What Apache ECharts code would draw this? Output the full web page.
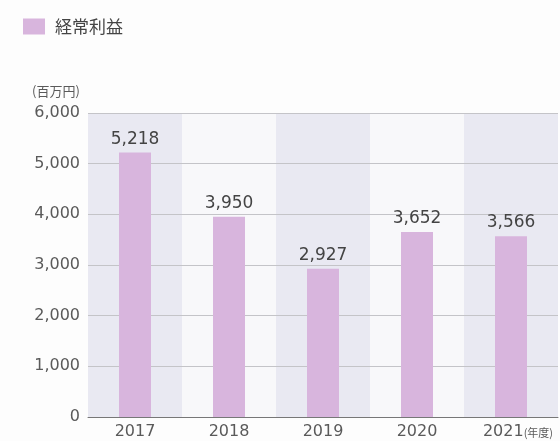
<!DOCTYPE html>
<html>
<head>
<meta charset="utf-8">
<script src="https://cdn.jsdelivr.net/npm/echarts@6/dist/echarts.min.js"></script>
<style>
html, body { margin: 0; padding: 0; background: #fdfdfd; }
#chart { width: 560px; height: 441px; }
</style>
</head>
<body>
<div id="chart"></div>
<script>
const years = ['2017', '2018', '2019', '2020', '2021'];
const ordinaryProfit = [5218, 3950, 2927, 3652, 3566];
const seriesName = '経常利益';
const unitLabel = '(百万円)';
const yearUnit = '(年度)';

const fmt = v => v.toLocaleString('en-US');
const textColor = '#5a5a5a';
const numFont = '"DejaVu Sans", sans-serif';
const cjkFont = '"Noto Sans CJK JP", "Noto Sans", sans-serif';

const chart = echarts.init(document.getElementById('chart'));
chart.setOption({
  backgroundColor: '#fdfdfd',
  animation: false,
  legend: {
    left: 18,
    top: 13,
    icon: 'rect',
    itemWidth: 22,
    itemHeight: 16,
    textStyle: { fontSize: 17, color: '#444', fontFamily: cjkFont, padding: [0, 0, 0, 5] },
    data: [seriesName]
  },
  grid: { left: 88, right: 2, top: 113, bottom: 24 },
  xAxis: [{
    // main category axis: baseline and year labels, drawn above the grid lines
    type: 'category',
    data: years,
    z: 2,
    axisLine: { lineStyle: { color: '#777', width: 1 } },
    axisTick: { show: false },
    axisLabel: {
      interval: 0,
      color: textColor,
      fontSize: 16,
      fontFamily: numFont,
      margin: 7,
      formatter: (v, i) => i === years.length - 1 ? '{y|' + v + '}{u|' + yearUnit + '}' : v,
      rich: {
        y: { fontSize: 16, color: textColor, fontFamily: numFont, padding: [0, 0, 0, 14] },
        u: { fontSize: 11, color: textColor, fontFamily: cjkFont, padding: [2, 0, 0, 0] }
      }
    }
  }, {
    // background bands behind each year
    type: 'category',
    data: years,
    z: 0,
    position: 'bottom',
    axisLine: { show: false },
    axisTick: { show: false },
    axisLabel: { show: false },
    splitArea: { show: true, interval: 0, areaStyle: { color: ['#e9e9f2', '#f8f8fa'] } }
  }],
  yAxis: {
    type: 'value',
    min: 0,
    max: 6000,
    interval: 1000,
    z: 1,
    axisLine: { show: false },
    axisTick: { show: false },
    splitLine: { lineStyle: { color: '#c4c4c8', width: 1 } },
    axisLabel: {
      color: textColor,
      fontSize: 16,
      fontFamily: numFont,
      margin: 8,
      padding: [4, 0, 0, 0],
      formatter: v => fmt(v)
    }
  },
  graphic: [{
    type: 'text',
    left: 32,
    top: 85,
    style: { text: unitLabel, fontSize: 13, fill: textColor, fontFamily: cjkFont }
  }],
  series: [{
    name: seriesName,
    type: 'bar',
    data: ordinaryProfit,
    barWidth: 32,
    z: 3,
    itemStyle: { color: '#d8b5dd' },
    label: {
      show: true,
      position: 'top',
      distance: 5,
      color: '#444',
      fontSize: 17,
      fontFamily: numFont,
      formatter: p => fmt(p.value)
    }
  }]
});
</script>
</body>
</html>
